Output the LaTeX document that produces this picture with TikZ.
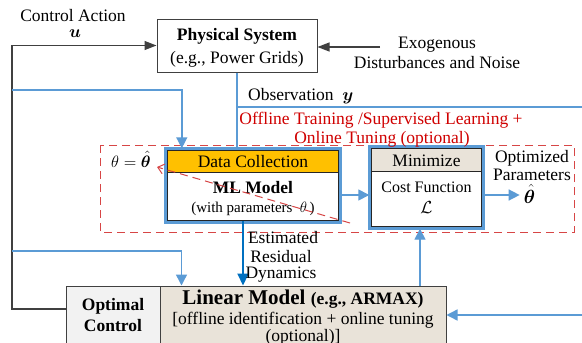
\RequirePackage{fix-cm}
\documentclass[tikz,border=0pt]{standalone}
\usepackage{amsmath,bm}
\usepackage{fontspec}
\setmainfont{Liberation Serif}
\usetikzlibrary{arrows.meta,calc}
\definecolor{lblue}{HTML}{5B9BD5}
\definecolor{dblue}{HTML}{0070C0}
\definecolor{kline}{HTML}{404040}
\definecolor{redtxt}{HTML}{D00000}
\definecolor{rdash}{RGB}{215,70,70}
\definecolor{beige}{RGB}{233,227,217}
\definecolor{orangehdr}{HTML}{FFC000}
\definecolor{lgray}{HTML}{F2F2F2}
\begin{document}
\begin{tikzpicture}[x=1pt,y=-1pt,
  txt/.style={font=\fontsize{17.5}{20}\selectfont, inner sep=0, anchor=base},
  btxt/.style={txt, font=\fontsize{17.5}{20}\selectfont\bfseries},
  lbl/.style={line width=1.4pt, draw=lblue},
  larrow/.style={lbl, -{Triangle[length=11pt,width=11pt]}},
  karrow/.style={line width=1.2pt, draw=kline, -{Triangle[length=12pt,width=9pt]}},
  rdashed/.style={draw=rdash, line width=1pt, dash pattern=on 8pt off 5pt}
]
\clip (0,0) rectangle (582,343);
\fill[white] (0,0) rectangle (582,343);

% ---------- Physical system ----------
\node[draw=kline, line width=1pt, minimum width=160, minimum height=53, inner sep=0] (ps) at (237,45.5) {};
\node[btxt] (pst) at (237,40) {Physical System};
\node[txt] (pse) at (237,63) {(e.g., Power Grids)};

\node[txt] (ca) at (73,21) {Control Action};
\node[txt] (u) at (75,37) {$\bm{u}$};

\node[txt] (exo1) at (437,48) {Exogenous};
\node[txt] (exo2) at (437,68) {Disturbances and Noise};
\coordinate (exoS) at (380,47);
\draw[karrow] (exoS) -- (exoS -| ps.east);

% ---------- bottom boxes ----------
\node[draw=kline, line width=1pt, fill=lgray, minimum width=94, minimum height=74, inner sep=0] (opt) at (113,323) {};
\node[draw=kline, line width=1pt, fill=beige, minimum width=286, minimum height=74, inner sep=0] (lin) at (303,323) {};
\node[btxt] (opt1) at (113,310) {Optimal};
\node[btxt] (opt2) at (113,331) {Control};
\node[txt] (lin1) at (303,304) {\fontsize{21}{24}\selectfont\bfseries Linear Model \fontsize{17.5}{20}\selectfont(e.g., ARMAX)};
\node[txt] (lin2) at (303,324) {[offline identification + online tuning};
\node[txt] (lin3) at (303,341) {(optional)]};

% ---------- control loop ----------
\coordinate (cl) at (12,309);
\draw[karrow] (cl -| opt.west) -- (cl) -- (cl |- ps.west) -- (ps.west);

% ---------- red dashed region ----------
\draw[rdashed] (100,145) rectangle (574,232);

% ---------- Data collection / ML model ----------
\node[minimum width=172, minimum height=71, inner sep=0] (dc) at (253,185.5) {};
\fill[orangehdr] (dc.north west) rectangle ([yshift=-23pt]dc.north east);
\draw[lblue, line width=3pt] ([xshift=-1.5pt,yshift=1.5pt]dc.north west) rectangle ([xshift=1.5pt,yshift=-1.5pt]dc.south east);
\draw[black!85, line width=1pt] ([xshift=0.5pt,yshift=-0.5pt]dc.north west) rectangle ([xshift=-0.5pt,yshift=0.5pt]dc.south east);
\draw[black!85, line width=1pt] ([yshift=-23pt]dc.north west) -- ([yshift=-23pt]dc.north east);
\node[txt] (dct) at (253,167) {Data Collection};
\node[btxt] (mlt) at (253,193) {ML Model};
\node[txt, font=\fontsize{15}{18}\selectfont] (mlp) at (253,212) {(with parameters \ $\theta$\,)};

% ---------- Minimize ----------
\node[minimum width=111, minimum height=79, inner sep=0] (mini) at (426.5,187.5) {};
\fill[beige] (mini.north west) rectangle ([yshift=-24pt]mini.north east);
\draw[lblue, line width=3pt] ([xshift=-1.5pt,yshift=1.5pt]mini.north west) rectangle ([xshift=1.5pt,yshift=-1.5pt]mini.south east);
\draw[black!85, line width=1pt] ([xshift=0.5pt,yshift=-0.5pt]mini.north west) rectangle ([xshift=-0.5pt,yshift=0.5pt]mini.south east);
\draw[black!85, line width=1pt] ([yshift=-24pt]mini.north west) -- ([yshift=-24pt]mini.north east);
\node[txt] (mint) at (426.5,166) {Minimize};
\node[txt, font=\fontsize{16}{19}\selectfont] (cft) at (426.5,192) {Cost Function};
\node[txt] (cfl) at (426.5,213) {$\mathcal{L}$};

% ---------- theta labels ----------
\node[txt, font=\fontsize{16.5}{20}\selectfont, anchor=base west] (theq) at (111,167) {$\theta=\hat{\bm{\theta}}$};
\node[txt, font=\fontsize{19}{22}\selectfont] (thhat) at (529.5,203) {$\hat{\bm{\theta}}$};
\node[txt] (opp1) at (532,162) {Optimized};
\node[txt] (opp2) at (532,180) {Parameters};

% ---------- observation ----------
\draw[lbl] (ps.south) -- (ps.south |- dc.north);
\coordinate (obsR) at (582,107);
\draw[lbl] (obsR -| ps.south) -- (obsR);
\node[txt, anchor=base west] (obs) at (248,100) {Observation \ $\bm{y}$};
\node[txt, text=redtxt] (off1) at (381,124) {Offline Training /Supervised Learning +};
\node[txt, text=redtxt] (off2) at (382,143) {Online Tuning (optional)};

% ---------- blue feeds from left ----------
\coordinate (b1) at (12,90);
\coordinate (dcin) at ([xshift=15pt,yshift=1.5pt]dc.north west);
\draw[larrow] (b1) -- (b1 -| dcin) -- (dcin);
\coordinate (b2) at (12,251);
\coordinate (linin) at ([xshift=22pt]lin.north west);
\draw[larrow] (b2) -- (b2 -| linin) -- (linin);

% ---------- arrows between blocks ----------
\coordinate (ar) at (0,195);
\draw[larrow] ([xshift=1.5pt]ar -| dc.east) -- ([xshift=-1.5pt]ar -| mini.west);
\draw[larrow] ([xshift=1.5pt]ar -| mini.east) -- ([xshift=-4pt]ar -| thhat.west);

\coordinate (dcb) at ([xshift=-10pt]dc.south);
\draw[dblue, line width=2pt, -{Triangle[length=12pt,width=11pt]}] (dcb) -- (dcb |- lin.north);
\node[txt] (est1) at (283,243) {Estimated};
\node[txt] (est2) at (281,262) {Residual};
\node[txt] (est3) at (281,278) {Dynamics};

\coordinate (mb) at ([xshift=-6.5pt,yshift=-1.5pt]mini.south);
\draw[larrow] (mb |- lin.north) -- (mb);

\coordinate (rr) at (582,315);
\draw[larrow] (rr) -- (rr -| lin.east);

% ---------- red dashed update arrow ----------
\coordinate (rs) at (350,223);
\coordinate (rt) at (157,167);
\draw[rdashed, -{Straight Barb[length=6pt,width=10pt]}] (rs) -- (rt);
\end{tikzpicture}
\end{document}
